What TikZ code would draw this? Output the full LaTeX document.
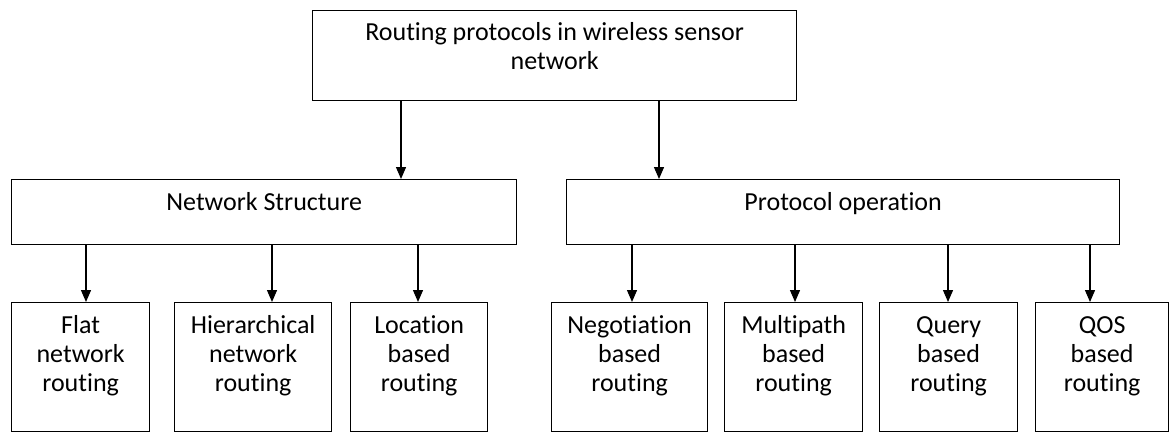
\documentclass[tikz,border=0pt]{standalone}
\usepackage{fontspec}
\setmainfont[Ligatures=NoCommon]{Carlito}
\usetikzlibrary{arrows.meta}
\begin{document}
\begin{tikzpicture}[x=1pt,y=-1pt,>={Triangle[width=10pt,length=12pt]},
    font=\fontsize{26}{29}\selectfont,
    box/.style={draw,line width=1.3pt,inner sep=0pt,align=center,anchor=north west,text height=31pt},
    leaf/.style={box,text height=89pt,text depth=40pt},
    arr/.style={->,line width=1.3pt}]
    \useasboundingbox (0,0) rectangle (1169,432);
    \node[box,minimum width=484pt,text height=59pt,text depth=31pt] (root) at (312,10) {Routing protocols in wireless sensor\\network};
    \node[box,minimum width=505pt,text depth=34pt] (ns) at (11,179) {Network Structure};
    \node[box,minimum width=553pt,text depth=34pt] (po) at (566,179) {Protocol operation};
    \node[leaf,minimum width=138pt] (flat) at (11,302) {Flat\\network\\routing};
    \node[leaf,minimum width=157pt] (hier) at (174,302) {Hierarchical\\network\\routing};
    \node[leaf,minimum width=137pt] (loc) at (350,302) {Location\\based\\routing};
    \node[leaf,minimum width=156pt] (neg) at (551,302) {Negotiation\\based\\routing};
    \node[leaf,minimum width=138pt] (multi) at (724,302) {Multipath\\based\\routing};
    \node[leaf,minimum width=138pt] (query) at (879,302) {Query\\based\\routing};
    \node[leaf,minimum width=133pt] (qos) at (1035,302) {QOS\\based\\routing};
    \foreach \x/\n in {401/ns,659/po}
        \draw[arr] (root.south -| \x,0) -- (\n.north -| \x,0);
    \foreach \x/\n in {86/flat,272/hier,418/loc}
        \draw[arr] (ns.south -| \x,0) -- (\n.north -| \x,0);
    \foreach \x/\n in {632/neg,795/multi,948/query,1090/qos}
        \draw[arr] (po.south -| \x,0) -- (\n.north -| \x,0);
\end{tikzpicture}
\end{document}
